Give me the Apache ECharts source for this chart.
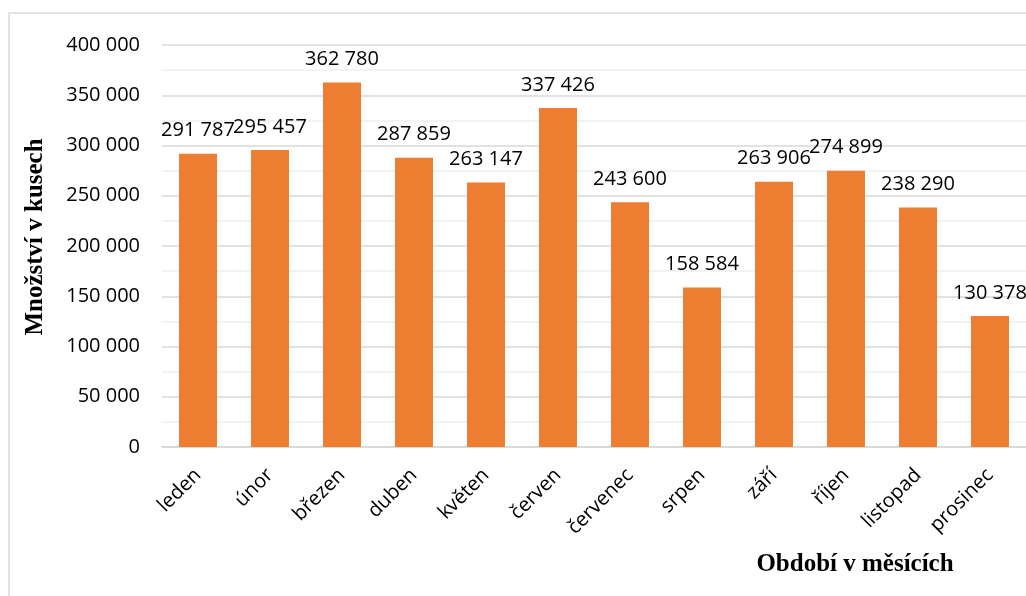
<!DOCTYPE html>
<html>
<head>
<meta charset="utf-8">
<script src="https://cdn.jsdelivr.net/npm/echarts@6/dist/echarts.min.js"></script>
<style>
  html, body { margin: 0; padding: 0; background: #fff; }
  #chart { width: 1026px; height: 596px; }
</style>
</head>
<body>
<div id="chart"></div>
<script>
// Monthly quantities (pieces)
const months = ['leden', 'únor', 'březen', 'duben', 'květen', 'červen',
                'červenec', 'srpen', 'září', 'říjen', 'listopad', 'prosinec'];
const quantities = [291787, 295457, 362780, 287859, 263147, 337426,
                    243600, 158584, 263906, 274899, 238290, 130378];
const yAxisTitle = 'Množství v kusech';
const xAxisTitle = 'Období v měsících';

// Thousands grouped with a space, Czech style
function fmt(v) {
  return String(v).replace(/\B(?=(\d{3})+(?!\d))/g, ' ');
}

const labelFont = '"Open Sans", sans-serif';
const titleFont = '"Liberation Serif", "Times New Roman", serif';

const chart = echarts.init(document.getElementById('chart'));
chart.setOption({
  animation: false,
  grid: { left: 162, top: 45, width: 866, bottom: 149, containLabel: false },
  xAxis: {
    type: 'category',
    data: months,
    axisLine: { lineStyle: { color: '#d9d9d9', width: 2 } },
    axisTick: { show: false },
    axisLabel: {
      rotate: 45,
      margin: 25,
      color: '#000',
      fontFamily: labelFont,
      fontSize: 20
    }
  },
  yAxis: {
    type: 'value',
    min: 0,
    max: 400000,
    interval: 50000,
    axisLine: { show: false },
    axisTick: { show: false },
    axisLabel: {
      margin: 22,
      color: '#000',
      fontFamily: labelFont,
      fontSize: 20,
      formatter: fmt
    },
    splitLine: { lineStyle: { color: '#d9d9d9', width: 1.5 } },
    minorTick: { show: false, splitNumber: 2 },
    minorSplitLine: { show: true, lineStyle: { color: '#efefef', width: 1.5 } }
  },
  series: [{
    type: 'bar',
    data: quantities,
    barWidth: 38,
    itemStyle: { color: '#ed7d31' },
    label: {
      show: true,
      position: 'top',
      distance: 13,
      color: '#000',
      fontFamily: labelFont,
      fontSize: 20,
      formatter: p => fmt(p.value)
    }
  }],
  graphic: [
    {
      type: 'rect',
      silent: true,
      shape: { x: 9, y: 13, width: 1100, height: 700 },
      style: { fill: 'none', stroke: '#d9d9d9', lineWidth: 1.5 }
    },
    {
      type: 'text',
      x: 36, y: 237,
      rotation: Math.PI / 2,
      style: {
        text: yAxisTitle,
        fontFamily: titleFont,
        fontWeight: 'bold',
        fontSize: 25,
        fill: '#000',
        align: 'center',
        verticalAlign: 'middle'
      }
    },
    {
      type: 'text',
      x: 855, y: 565,
      style: {
        text: xAxisTitle,
        fontFamily: titleFont,
        fontWeight: 'bold',
        fontSize: 25,
        fill: '#000',
        align: 'center',
        verticalAlign: 'middle'
      }
    }
  ]
});
</script>
</body>
</html>
